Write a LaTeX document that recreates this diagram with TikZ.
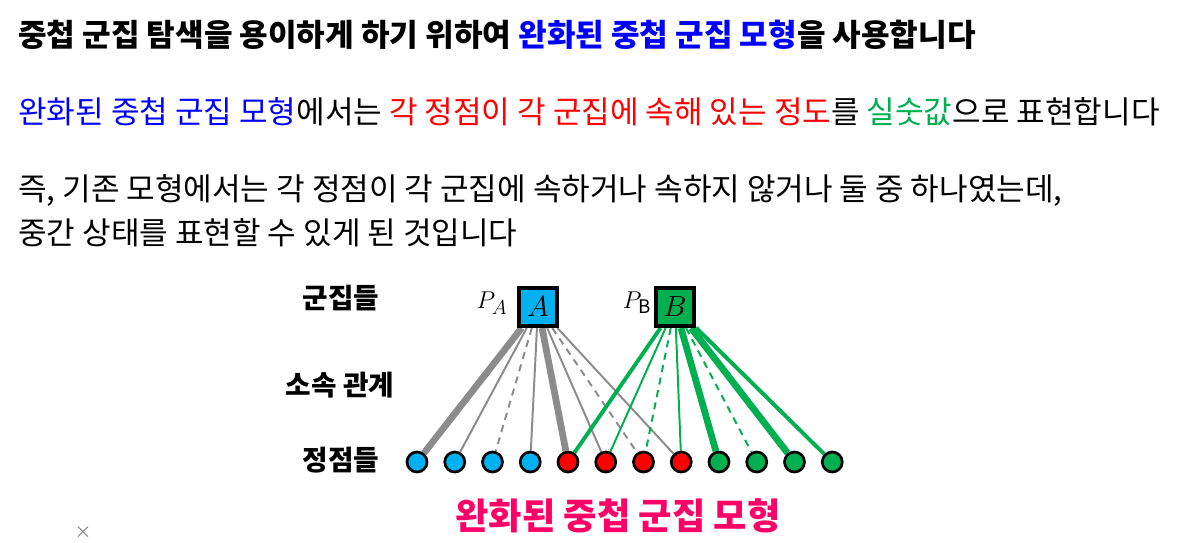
\documentclass[tikz,border=0pt]{standalone}
\usepackage{fontspec}
\setmainfont{Noto Sans CJK KR}
\usetikzlibrary{backgrounds}

\definecolor{clsA}{RGB}{0,176,240}
\definecolor{clsB}{RGB}{0,176,80}
\definecolor{vred}{RGB}{255,0,0}
\definecolor{txtblue}{RGB}{0,0,255}
\definecolor{titlepink}{RGB}{255,0,102}
\definecolor{edgegray}{RGB}{140,140,140}

\begin{document}
\begin{tikzpicture}[
    x=0.025cm, y=-0.025cm,
    bodytext/.style={anchor=west, inner sep=0pt, font=\fontsize{22.1}{26}\selectfont},
    rowlabel/.style={inner sep=0pt, font=\bfseries\fontsize{19.7}{22}\selectfont},
    cluster/.style={draw, line width=2.8pt, minimum size=0.95cm, inner sep=0pt, font=\fontsize{21}{24}\selectfont},
    vertex/.style={circle, draw, line width=1.9pt, minimum size=0.5cm, inner sep=0pt},
    edgeweak/.style={line width=1.4pt},
    edgedash/.style={line width=1.4pt, dash pattern=on 5pt off 4pt},
    edgemid/.style={line width=2.8pt},
    edgestrong/.style={line width=4.8pt}
]

    \useasboundingbox (0,0) rectangle (1185,542);

    % Text above the diagram
    \node[bodytext, font=\bfseries\fontsize{22.1}{26}\selectfont] (line1) at (18,35)
        {중첩 군집 탐색을 용이하게 하기 위하여 \textcolor{txtblue}{완화된 중첩 군집 모형}을 사용합니다};
    \node[bodytext] (line2) at (18,112)
        {\textcolor{txtblue}{완화된 중첩 군집 모형}에서는 \textcolor{vred}{각 정점이 각 군집에 속해 있는 정도}를 \textcolor{clsB}{실숫값}으로 표현합니다};
    \node[bodytext] (line3) at (18,190)
        {즉, 기존 모형에서는 각 정점이 각 군집에 속하거나 속하지 않거나 둘 중 하나였는데,};
    \node[bodytext] (line4) at (18,233)
        {중간 상태를 표현할 수 있게 된 것입니다};

    % Row labels
    \node[rowlabel] (lblclusters) at (341,298) {군집들};
    \node[rowlabel] (lblmember) at (340,385) {소속 관계};
    \node[rowlabel] (lblvertices) at (341,460) {정점들};

    % Clusters
    \node[cluster, fill=clsA] (A) at (538,307) {$A$};
    \node[cluster, fill=clsB] (B) at (675,307) {$B$};
    \node[font=\fontsize{19}{22}\selectfont] (PA) at (492,303) {$P_A$};
    \node[font=\fontsize{19}{22}\selectfont] (PB) at (637,303) {$P_\mathrm{B}$};

    % Vertices
    \foreach \i/\c in {1/clsA,2/clsA,3/clsA,4/clsA,5/vred,6/vred,7/vred,8/vred,9/clsB,10/clsB,11/clsB,12/clsB}
        \node[vertex, fill=\c] (v\i) at ({417+37.75*(\i-1)},462) {};

    % Membership edges
    \begin{scope}[on background layer]
        % cluster A
        \draw[edgegray, edgestrong] (A) -- (v1);
        \draw[edgegray, edgeweak] (A) -- (v2);
        \draw[edgegray, edgedash] (A) -- (v3);
        \draw[edgegray, edgeweak] (A) -- (v4);
        \draw[edgegray, edgestrong] (A) -- (v5);
        \draw[edgegray, edgeweak] (A) -- (v6);
        \draw[edgegray, edgedash] (A) -- (v7);
        \draw[edgegray, edgeweak] (A) -- (v8);
        % cluster B
        \draw[clsB, edgemid] (B) -- (v5);
        \draw[clsB, edgeweak] (B) -- (v6);
        \draw[clsB, edgedash] (B) -- (v7);
        \draw[clsB, edgeweak] (B) -- (v8);
        \draw[clsB, edgestrong] (B) -- (v9);
        \draw[clsB, edgedash] (B) -- (v10);
        \draw[clsB, edgestrong] (B) -- (v11);
        \draw[clsB, edgemid] (B) -- (v12);
    \end{scope}

    % Caption
    \node[text=titlepink, font=\bfseries\fontsize{25.8}{30}\selectfont] (title) at (618,516) {완화된 중첩 군집 모형};
    \node[text=gray, font=\fontsize{12}{13}\selectfont] (mark) at (83,533) {×};

\end{tikzpicture}
\end{document}
